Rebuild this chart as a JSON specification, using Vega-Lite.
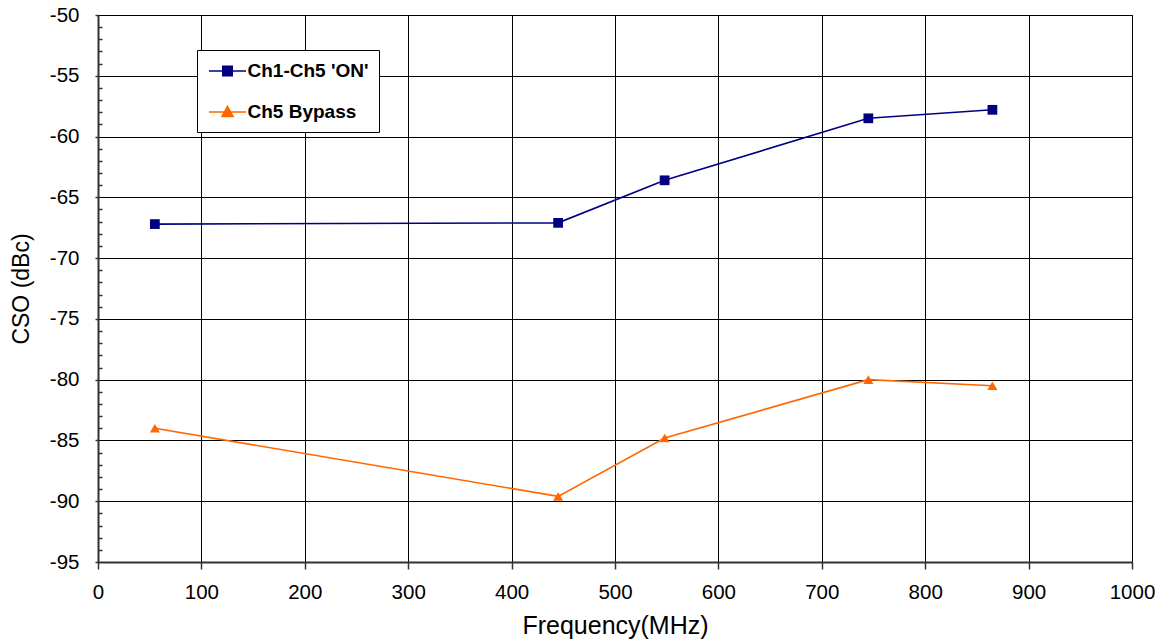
{
  "$schema": "https://vega.github.io/schema/vega-lite/v6.json",
  "width": 1034,
  "height": 547,
  "autosize": "none",
  "padding": {"left": 98, "top": 15, "right": 25, "bottom": 80},
  "background": "white",
  "config": {
    "view": {"stroke": "#000000", "strokeWidth": 1}
  },
  "data": {
    "values": [
      {"series": "Ch1-Ch5 'ON'", "freq": 55, "cso": -67.2},
      {"series": "Ch1-Ch5 'ON'", "freq": 445, "cso": -67.1},
      {"series": "Ch1-Ch5 'ON'", "freq": 548, "cso": -63.6},
      {"series": "Ch1-Ch5 'ON'", "freq": 745, "cso": -58.5},
      {"series": "Ch1-Ch5 'ON'", "freq": 865, "cso": -57.8},
      {"series": "Ch5 Bypass", "freq": 55, "cso": -84.0},
      {"series": "Ch5 Bypass", "freq": 445, "cso": -89.6},
      {"series": "Ch5 Bypass", "freq": 548, "cso": -84.8},
      {"series": "Ch5 Bypass", "freq": 745, "cso": -80.0},
      {"series": "Ch5 Bypass", "freq": 865, "cso": -80.5}
    ]
  },
  "layer": [
    {
      "mark": {"type": "line", "strokeWidth": 1.6},
      "encoding": {
        "x": {
          "field": "freq", "type": "quantitative",
          "scale": {"domain": [0, 1000], "nice": false},
          "axis": {
            "title": "Frequency(MHz)", "values": [0,100,200,300,400,500,600,700,800,900,1000],
            "labelExpr": "'' + datum.value", "labelFlush": false, "labelOverlap": false,
            "tickSize": 7, "labelPadding": 13, "titlePadding": 11, "grid": true,
            "labelFont": "Liberation Sans", "titleFont": "Liberation Sans",
            "labelFontSize": 20.5, "titleFontSize": 25, "titleFontWeight": "normal",
            "labelColor": "#000000", "titleColor": "#000000",
            "gridColor": "#000000", "gridOpacity": 1, "gridWidth": 1,
            "domainColor": "#333333", "domainWidth": 2,
            "tickColor": "#333333", "tickWidth": 1.5
          }
        },
        "y": {
          "field": "cso", "type": "quantitative",
          "scale": {"domain": [-95, -50], "nice": false},
          "axis": {
            "title": "CSO (dBc)", "values": [-95,-90,-85,-80,-75,-70,-65,-60,-55,-50],
            "labelExpr": "'' + datum.value", "labelFlush": false, "labelOverlap": false,
            "tickSize": 3, "labelPadding": 16, "titlePadding": 16, "grid": true,
            "labelFont": "Liberation Sans", "titleFont": "Liberation Sans",
            "labelFontSize": 20.5, "titleFontSize": 23, "titleFontWeight": "normal",
            "labelColor": "#000000", "titleColor": "#000000",
            "gridColor": "#000000", "gridOpacity": 1, "gridWidth": 1,
            "domainColor": "#333333", "domainWidth": 2,
            "tickColor": "#333333", "tickWidth": 1.5
          }
        },
        "color": {
          "field": "series", "type": "nominal",
          "scale": {"domain": ["Ch1-Ch5 'ON'", "Ch5 Bypass"], "range": ["#000080", "#FF6600"]},
          "legend": {
            "title": null,
            "orient": "none",
            "legendX": 99,
            "legendY": 35,
            "padding": 10,
            "strokeColor": "#000000",
            "fillColor": "#ffffff",
            "symbolSize": 400,
            "symbolOffset": 9.5,
            "labelFont": "Liberation Sans",
            "labelFontSize": 19,
            "labelFontWeight": "bold",
            "labelColor": "#000000",
            "labelOffset": 9,
            "labelExpr": "datum.label + '  '",
            "rowPadding": 20,
            "encode": {
              "symbols": {
                "update": {
                  "shape": {"signal": "datum.value == 'Ch5 Bypass' ? 'M-1.85,0H1.85M0,-0.55L0.55,0.45H-0.55Z' : 'M-1.85,0H1.85M-0.47,-0.47H0.47V0.47H-0.47Z'"},
                  "fill": {"signal": "datum.value == 'Ch5 Bypass' ? '#FF6600' : '#000080'"},
                  "stroke": {"signal": "datum.value == 'Ch5 Bypass' ? '#FF6600' : '#000080'"},
                  "strokeWidth": {"value": 1.6},
                  "opacity": {"value": 1},
                  "fillOpacity": {"value": 1},
                  "strokeOpacity": {"value": 1}
                }
              }
            }
          }
        }
      }
    },
    {
      "transform": [{"filter": "datum.series == 'Ch5 Bypass'"}],
      "mark": {"type": "point", "filled": true, "opacity": 1, "shape": "triangle-up", "size": 100},
      "encoding": {
        "x": {"field": "freq", "type": "quantitative"},
        "y": {
          "field": "cso", "type": "quantitative",
          "axis": {"orient": "left", "values": [-94,-93,-92,-91,-89,-88,-87,-86,-84,-83,-82,-81,-79,-78,-77,-76,-74,-73,-72,-71,-69,-68,-67,-66,-64,-63,-62,-61,-59,-58,-57,-56,-54,-53,-52,-51], "labels": false, "title": null, "grid": false, "domain": false, "tickSize": -4, "tickColor": "#333333", "tickWidth": 1.5}
        },
        "color": {"field": "series", "type": "nominal"}
      }
    },
    {
      "transform": [{"filter": "datum.series == \"Ch1-Ch5 'ON'\""}],
      "mark": {"type": "point", "filled": true, "opacity": 1, "shape": "square", "size": 95},
      "encoding": {
        "x": {"field": "freq", "type": "quantitative"},
        "y": {"field": "cso", "type": "quantitative", "axis": null},
        "color": {"field": "series", "type": "nominal"}
      }
    }
  ],
  "resolve": {"axis": {"y": "independent"}}
}
